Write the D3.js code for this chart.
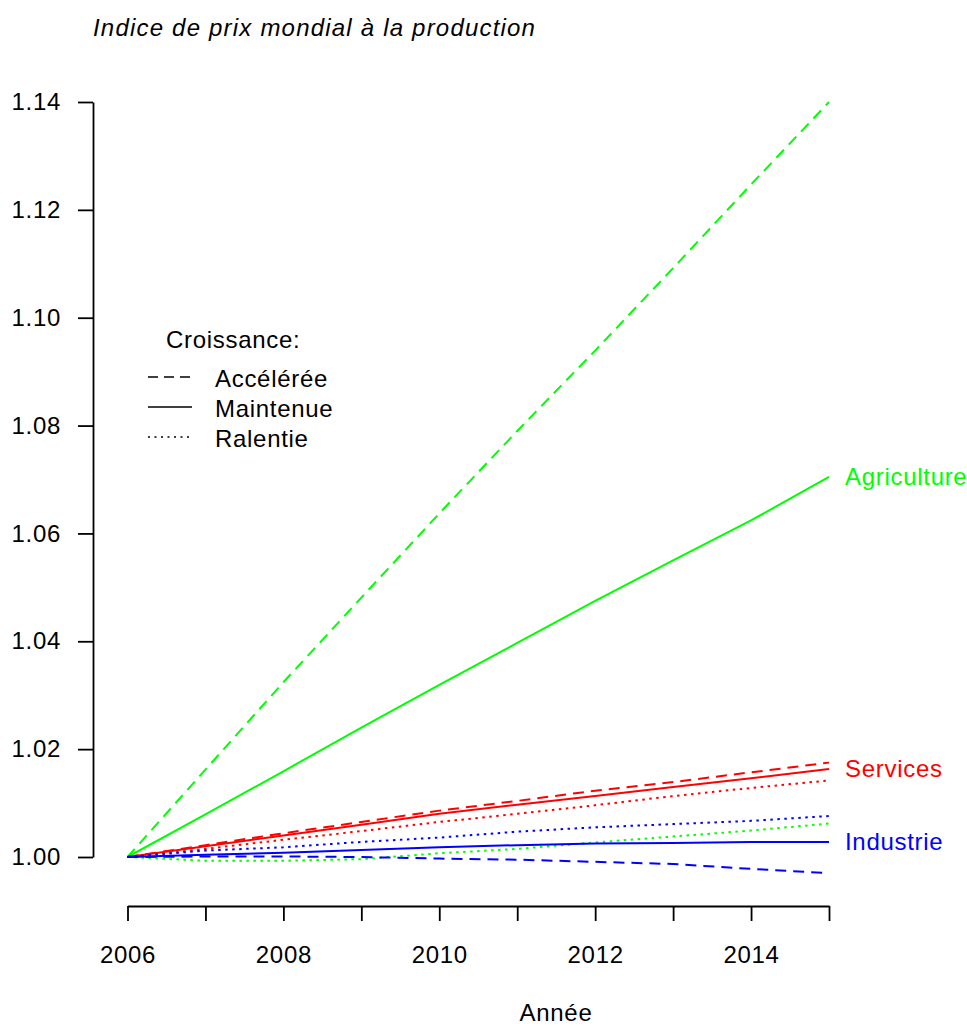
<html>
<script src='https://d3js.org/d3.v7.min.js'></script>

<style>
body { margin: 0; background: #fff; }
.chart text { font-family: "Liberation Sans", Arial, sans-serif; letter-spacing: 0.7px; }
</style>

<body onload='init()'>
<svg width="967" height="1026" class="chart"></svg>

<script>
// years and series (index of world producer prices, base 2006 = 1)
var years = [2006, 2007, 2008, 2009, 2010, 2011, 2012, 2013, 2014, 2015];

var agriAcceleree = [1.0000, 1.0162, 1.0324, 1.0481, 1.0637, 1.0790, 1.0939, 1.1092, 1.1247, 1.1400];
var agriMaintenue = [1.0000, 1.0079, 1.0159, 1.0240, 1.0319, 1.0397, 1.0475, 1.0550, 1.0624, 1.0705];
var agriRalentie  = [1.0000, 0.9993, 0.9993, 0.9996, 1.0007, 1.0015, 1.0027, 1.0038, 1.0049, 1.0062];

var servAcceleree = [1.0000, 1.0022, 1.0044, 1.0065, 1.0086, 1.0104, 1.0123, 1.0139, 1.0157, 1.0175];
var servMaintenue = [1.0000, 1.0020, 1.0040, 1.0060, 1.0080, 1.0097, 1.0113, 1.0130, 1.0146, 1.0163];
var servRalentie  = [1.0000, 1.0015, 1.0032, 1.0048, 1.0065, 1.0080, 1.0096, 1.0113, 1.0128, 1.0142];

var indAcceleree  = [1.0000, 1.0001, 1.0001, 1.0000, 0.9997, 0.9995, 0.9991, 0.9987, 0.9978, 0.9970];
var indMaintenue  = [1.0000, 1.0004, 1.0008, 1.0013, 1.0018, 1.0022, 1.0025, 1.0026, 1.0028, 1.0028];
var indRalentie   = [1.0000, 1.0012, 1.0018, 1.0028, 1.0036, 1.0047, 1.0055, 1.0061, 1.0067, 1.0076];

var yTicks = [1.00, 1.02, 1.04, 1.06, 1.08, 1.10, 1.12, 1.14];
var xLabels = [2006, 2008, 2010, 2012, 2014];

var sectors = ["Agriculture", "Services", "Industrie"];
var scenarios = ["Accélérée", "Maintenue", "Ralentie"];

function init() {
    var svg = d3.select(".chart");
    svg.append("rect").attr("width", 967).attr("height", 1026).attr("fill", "#fff");

    var x = d3.scaleLinear().domain([2006, 2015]).range([127.5, 829]);
    var y = d3.scaleLinear().domain([1.00, 1.14]).range([857, 102]);

    var colors = {"Agriculture": "#00ff00", "Services": "#ff0000", "Industrie": "#0000ff"};
    var dashes = {"Accélérée": "11,7", "Maintenue": null, "Ralentie": "2.5,4.5"};

    var series = [
        {sector: "Agriculture", scen: "Accélérée", v: agriAcceleree},
        {sector: "Agriculture", scen: "Maintenue", v: agriMaintenue},
        {sector: "Agriculture", scen: "Ralentie", v: agriRalentie},
        {sector: "Services", scen: "Accélérée", v: servAcceleree},
        {sector: "Services", scen: "Maintenue", v: servMaintenue},
        {sector: "Services", scen: "Ralentie", v: servRalentie},
        {sector: "Industrie", scen: "Accélérée", v: indAcceleree},
        {sector: "Industrie", scen: "Maintenue", v: indMaintenue},
        {sector: "Industrie", scen: "Ralentie", v: indRalentie}
    ];

    var line = d3.line()
        .x(function(d, i) { return x(years[i]); })
        .y(function(d) { return y(d); });

    svg.append("g").selectAll("path")
      .data(series)
      .enter()
      .append("path")
      .attr("d", function(d) { return line(d.v); })
      .attr("fill", "none")
      .attr("stroke", function(d) { return colors[d.sector]; })
      .attr("stroke-width", 2)
      .attr("stroke-dasharray", function(d) { return dashes[d.scen]; });

    // y axis
    svg.append("g")
      .attr("transform", "translate(93,0)")
      .call(d3.axisLeft(y).tickValues(yTicks).tickFormat(d3.format(".2f"))
            .tickSize(15).tickSizeOuter(0).tickPadding(17));

    // x axis
    svg.append("g")
      .attr("transform", "translate(0,906)")
      .call(d3.axisBottom(x).tickValues(years)
            .tickFormat(function(d) { return xLabels.indexOf(d) >= 0 ? d : ""; })
            .tickSize(15).tickSizeOuter(0).tickPadding(25));

    svg.selectAll(".domain, .tick line").attr("stroke", "#000").attr("stroke-width", 1.8);
    svg.selectAll(".tick text").attr("fill", "#000").style("font-size", "24px")
       .style("font-family", "'Liberation Sans', Arial, sans-serif");

    // title and axis label
    svg.append("text").attr("x", 93).attr("y", 36)
       .style("font-size", "24px").style("font-style", "italic")
       .style("letter-spacing", "1.2px")
       .text("Indice de prix mondial à la production");

    svg.append("text").attr("x", 556).attr("y", 1021)
       .attr("text-anchor", "middle").style("font-size", "24px")
       .text("Année");

    // sector labels at the end of the "Maintenue" lines
    var ends = [agriMaintenue, servMaintenue, indMaintenue];
    svg.append("g").selectAll("text")
      .data(sectors)
      .enter()
      .append("text")
      .attr("x", x(2015) + 16)
      .attr("y", function(d, i) { return y(ends[i][ends[i].length - 1]); })
      .attr("dy", "0.35em")
      .attr("fill", function(d) { return colors[d]; })
      .style("font-size", "24px")
      .text(function(d) { return d; });

    // legend
    var leg = svg.append("g");
    leg.append("text").attr("x", 166).attr("y", 348).style("font-size", "24px").text("Croissance:");
    var items = leg.selectAll(".item")
      .data(scenarios)
      .enter()
      .append("g")
      .attr("class", "item")
      .attr("transform", function(d, i) { return "translate(0," + (387 + 30 * i) + ")"; });
    items.append("line")
      .attr("x1", 148).attr("x2", 192).attr("y1", -10).attr("y2", -10)
      .attr("stroke", "#000").attr("stroke-width", 1.5)
      .attr("stroke-dasharray", function(d) { return d == "Accélérée" ? "10,6" : (d == "Ralentie" ? "2,4.5" : null); });
    items.append("text").attr("x", 215).attr("y", 0).style("font-size", "24px")
      .text(function(d) { return d; });
}
</script>
</body>

</html>
